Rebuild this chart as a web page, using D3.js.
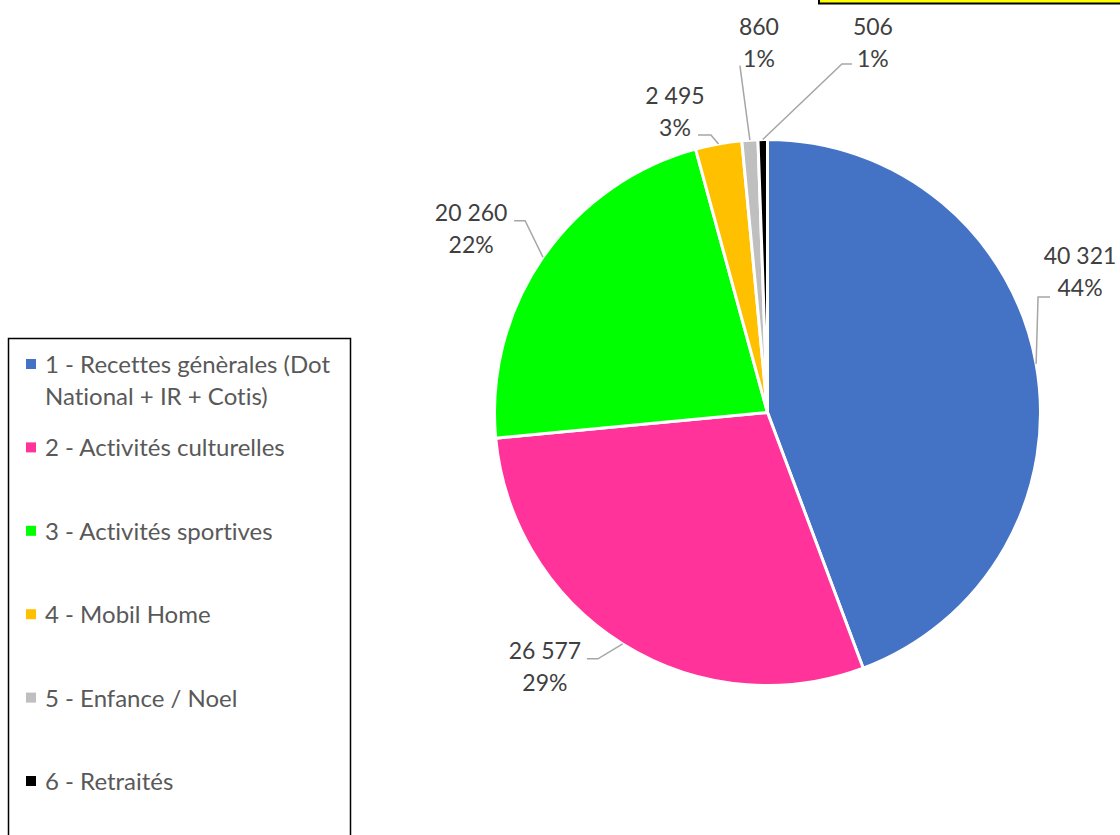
<!DOCTYPE html>
<html>
<head>
<meta charset="utf-8">
<script src="https://cdn.jsdelivr.net/npm/d3@7"></script>
<style>
  body { margin: 0; background: #fff; }
  svg { display: block; font-family: Lato, "Liberation Sans", sans-serif; font-variant-ligatures: none; }
</style>
</head>
<body>
<div id="chart"></div>
<script>
// data
const categories = [
    "1 - Recettes génèrales (Dot National + IR + Cotis)",
    "2 - Activités culturelles",
    "3 - Activités sportives",
    "4 - Mobil Home",
    "5 - Enfance / Noel",
    "6 - Retraités"
];
const values = [40321, 26577, 20260, 2495, 860, 506];
const colors = ["#4472C4", "#FF3399", "#00FF00", "#FFC000", "#BFBFBF", "#000000"];

// hand placed data labels: [angle deg, radius, leader end dx, leader end dy, elbow dx]
const labelLayout = [
    [64.6, 346, -30, 33, -12],
    [222.1, 332, 42, 0, 11],
    [302.9, 353, 43, 0, 11],
    [343.3, 322, 23, 31, 13],
    [358.7, 378, -19, 31, 0],
    [15.6, 392, -21, 29, -10]
];

const width = 1120, height = 835;
const cx = 767.5, cy = 412.5, radius = 273;

const svg = d3.select("#chart")
    .append("svg")
    .attr("width", width)
    .attr("height", height)
    .attr("viewBox", [0, 0, width, height]);

// bit of the yellow title box poking in at the top
svg.append("rect")
    .attr("x", 819).attr("y", -10)
    .attr("width", 320).attr("height", 13.5)
    .attr("fill", "#FFFF00")
    .attr("stroke", "#000").attr("stroke-width", 2);

const data = categories.map((c, i) => ({ name: c, value: values[i], color: colors[i], lay: labelLayout[i] }));
const total = d3.sum(values);

const pie = d3.pie().sort(null).value(d => d.value);
const arc = d3.arc().innerRadius(0).outerRadius(radius);
const arcs = pie(data);

const g = svg.append("g").attr("transform", `translate(${cx},${cy})`);

g.selectAll("path.slice")
    .data(arcs)
    .join("path")
    .attr("class", "slice")
    .attr("d", arc)
    .attr("fill", d => d.data.color)
    .attr("stroke", "#fff")
    .attr("stroke-width", 3)
    .attr("stroke-linejoin", "round");

const fmt = d3.formatLocale({ decimal: ",", thousands: " ", grouping: [3], currency: ["", ""] }).format(",d");
const polar = (deg, r) => {
    const a = deg * Math.PI / 180;
    return [r * Math.sin(a), -r * Math.cos(a)];
};

// leader lines
arcs.forEach(d => {
    const mid = (d.startAngle + d.endAngle) / 2 * 180 / Math.PI;
    const start = polar(mid, radius);
    const [ang, r, ex, ey, elb] = d.data.lay;
    const p = polar(ang, r);
    const end = [p[0] + ex, p[1] + ey];
    const elbow = [end[0] + elb, end[1]];
    g.append("path")
        .attr("d", d3.line()([start, elbow, end]))
        .attr("fill", "none")
        .attr("stroke", "#A6A6A6")
        .attr("stroke-width", 1.5);
});

// data labels, value then percent
arcs.forEach(d => {
    const [ang, r] = d.data.lay;
    const p = polar(ang, r);
    const t = g.append("text")
        .attr("text-anchor", "middle")
        .attr("font-size", 23)
        .attr("fill", "#404040");
    t.append("tspan").attr("x", p[0]).attr("y", p[1]).text(fmt(d.data.value));
    t.append("tspan").attr("x", p[0]).attr("y", p[1] + 32)
        .text(Math.round(d.data.value / total * 100) + "%");
});

// legend box
const legend = svg.append("g");
legend.append("rect")
    .attr("x", 8.5).attr("y", 338.5)
    .attr("width", 342).attr("height", 520)
    .attr("fill", "#fff")
    .attr("stroke", "#000").attr("stroke-width", 1.5);

const rowY = d3.scalePoint().domain(d3.range(categories.length)).range([373, 790]);

data.forEach((d, i) => {
    const y = i === 0 ? 373 : rowY(i);
    const item = legend.append("g");
    item.append("rect")
        .attr("x", 26).attr("y", y - 14)
        .attr("width", 10).attr("height", 10)
        .attr("fill", d.color);
    const t = item.append("text")
        .attr("x", 45).attr("y", y)
        .attr("font-size", 24)
        .attr("fill", "#595959");
    // simple word wrap at the legend box width
    const words = d.name.split(" ");
    let line = [], tspan = t.append("tspan").attr("x", 45).attr("y", y), ln = 0;
    words.forEach(w => {
        line.push(w);
        tspan.text(line.join(" "));
        if (tspan.node().getComputedTextLength() > 300 && line.length > 1) {
            line.pop();
            tspan.text(line.join(" "));
            line = [w];
            ln++;
            tspan = t.append("tspan").attr("x", 45).attr("y", y + ln * 32).text(w);
        }
    });
});
</script>
</body>
</html>
